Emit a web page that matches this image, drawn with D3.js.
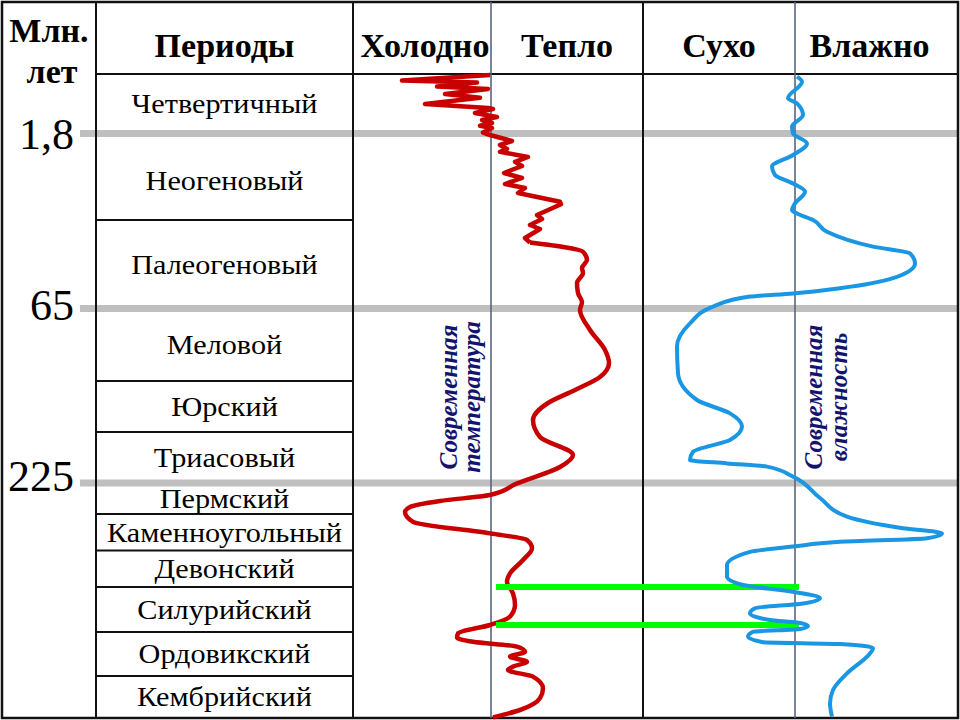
<!DOCTYPE html>
<html lang="ru">
<head>
<meta charset="UTF-8">
<title>Климат фанерозоя</title>
<script src="https://cdn.jsdelivr.net/npm/d3@7"></script>
<style>
  body { margin: 0; padding: 0; background: #fff; }
  svg { display: block; font-family: "Liberation Serif", "Times New Roman", serif; }
</style>
</head>
<body>
<div id="chart"></div>
<script>
// periods, top to bottom, with the lower edge of each row in chart units
var periods = ["Четвертичный", "Неогеновый", "Палеогеновый", "Меловой", "Юрский", "Триасовый",
               "Пермский", "Каменноугольный", "Девонский", "Силурийский", "Ордовикский", "Кембрийский"];
var periodEnds = [14.6, 36.25, 58.4, 76.5, 89.25, 102, 109.75, 118.9, 128, 139.25, 150.25, 160.75];
var periodStart = -0.25;

// age marks (млн. лет) sit on these period boundaries
var ageLabels = ["1,8", "65", "225"];
var ageBoundary = [0, 2, 5];

var columnHeaders = ["Холодно", "Тепло", "Сухо", "Влажно"];

// temperature relative to today: [position, deviation]
var tempRecent = [
  [0, -0.05], [1.4, -4.45], [1.9, -0.7], [2.9, -2.7], [3.5, -0.15], [4.75, -2.3], [5.7, -0.55],
  [7.25, -3.3], [8.25, -0.15], [8.5, 0.1], [9.5, -0.8], [10.5, 0.3], [11.25, -0.45], [12, 0.05],
  [12.7, -0.55], [13.25, 0.05], [14.4, -0.4], [15, -0.05], [16.5, 1.05], [17.5, 0.45], [18.5, 0.8],
  [19.2, 0.45], [20.5, 1.85], [21.7, 1.2], [22.75, 1.55], [24.5, 0.65], [25.75, 1.55], [27.25, 0.7],
  [28.25, 1.7], [29.5, 1.35], [31.7, 3.45], [32.3, 3.5], [35, 2.3], [36, 2.55], [37.5, 1.95],
  [38.5, 2.45], [40.75, 1.7], [41.9, 1.95]
];
var tempAncient = [
  [41.9, 1.95], [44.2, 4.6], [46.25, 4.8], [48.25, 4.55], [49.5, 4.6], [52, 4.3], [54.5, 4.35],
  [56.75, 4.55], [58.75, 4.45], [63.75, 4.95], [68.75, 5.7], [72, 5.9], [75.5, 5.45], [78.75, 4.2],
  [82, 2.85], [86.25, 2.1], [90.5, 2.45], [95, 4.1], [98, 3.45], [102.1, 1.3], [105, -0.05],
  [106.5, -2.55], [108, -4.05], [109.25, -4.3], [111.7, -3.9], [114.6, -0.05], [116.25, 1.8],
  [118.3, 2.05], [121.25, 1.6], [124.6, 0.95], [126.7, 0.8], [129.6, 1.1], [132.5, 1.2],
  [135.4, 0.95], [137.5, -0.05], [139.6, -1.65], [140.6, -1.7], [141.7, -0.9], [142.9, 1.3],
  [144.2, 1.7], [145.4, 0.95], [146.7, 1.8], [147.9, 1.1], [148.75, 0.85], [150.4, 2.1],
  [153.3, 2.6], [155.8, 2.45], [158.75, 1.45], [160.6, 0.1]
];

// humidity relative to today: [position, deviation]
var humidity = [
  [0.4, 0.1], [1.7, 0.35], [5.8, -0.35], [7.1, 0.1], [10, 0.4], [12.9, -0.15], [14.6, -0.1],
  [17.1, 0.6], [20, -0.1], [22.9, -1.15], [25, -1.0], [27.1, -0.1], [29.2, 0.5], [32.1, 0],
  [33.75, -0.15], [34.75, 0.15], [36.25, 0.9], [39.2, 1.6], [42.9, 3.9], [44.6, 5.75], [47.1, 6.0],
  [50.8, 4.9], [53.3, 2.25], [54.6, -0.1], [55.4, -2.25], [57.9, -4.1], [62.1, -5.25], [67.9, -5.9],
  [74.6, -5.85], [81.25, -4.9], [84.6, -3.25], [87.9, -2.65], [91.25, -3.25], [94.2, -5.1],
  [96.25, -5.25], [97.1, -3.4], [97.9, -1.4], [100.4, -0.1], [105.75, 1.25], [110.4, 2.6],
  [113.3, 5.4], [114.6, 7.35], [115.8, 6.6], [116.7, 2.25], [117.9, -0.1], [119.2, -2.25],
  [122.5, -3.4], [125.4, -3.4], [127.5, -2.6], [129.2, -0.1], [130.8, 1.25], [132.1, 0.4],
  [133.3, -2.0], [134.6, -2.25], [136.25, -1.25], [136.9, 0.1], [137.75, 0.65], [138.5, 0.25],
  [139.2, -2.1], [140.4, -2.35], [141.8, -1.6], [142.25, 2.25], [143.3, 3.9], [144.6, 3.75],
  [149.6, 2.6], [153.75, 1.9], [157.1, 1.75], [160.4, 1.85]
];

// green bars of the Silurian, positions and their span from temp to humidity value
var greenMarks = [128, 137.5];
var greenFrom = 0.25, greenTo = 0.2;

var W = 960, H = 720;
var svg = d3.select("#chart").append("svg")
    .attr("width", W).attr("height", H);

var y = d3.scaleLinear().domain([0, 160]).range([75, 715]);
var tempX = d3.scaleLinear().domain([-7, 7.5]).range([351, 641]);
var humX = d3.scaleLinear().domain([-7.5, 8]).range([645, 955]);

var colL = 96, colP = 353, colM = 643, right = 958, headY = 74;

// period rows
svg.selectAll(".row").data(periodEnds.slice(0, -1)).enter().append("line")
    .attr("x1", colL).attr("x2", colP)
    .attr("y1", function(d) { return y(d); }).attr("y2", function(d) { return y(d); })
    .attr("stroke", "#111").attr("stroke-width", 2);

// gray age lines cover the row lines they sit on
svg.selectAll(".age").data(ageBoundary).enter().append("line")
    .attr("x1", 80).attr("x2", right)
    .attr("y1", function(d) { return y(periodEnds[d]); })
    .attr("y2", function(d) { return y(periodEnds[d]); })
    .attr("stroke", "#bfbfbf").attr("stroke-width", 7);

// period names, a bit wider than the font draws them
var midX = (colL + colP) / 2;
svg.selectAll(".ptxt").data(periods).enter().append("text")
    .attr("transform", function(d, i) {
      var top = i === 0 ? periodStart : periodEnds[i - 1];
      var cy = (y(top) + y(periodEnds[i])) / 2 + (i === 1 ? 4 : 0);
      return "translate(" + midX + "," + cy + ") scale(1.12,1)";
    })
    .attr("text-anchor", "middle").attr("dominant-baseline", "central")
    .attr("font-size", 27).text(function(d) { return d; });

// frame and columns
svg.append("rect").attr("x", 2).attr("y", 2).attr("width", W - 4).attr("height", H - 4)
    .attr("fill", "none").attr("stroke", "#111").attr("stroke-width", 2.5);
[colL, colP, colM].forEach(function(x) {
  svg.append("line").attr("x1", x).attr("x2", x).attr("y1", 2).attr("y2", H - 2)
      .attr("stroke", "#111").attr("stroke-width", 2);
});
svg.append("line").attr("x1", colL).attr("x2", right).attr("y1", headY).attr("y2", headY)
    .attr("stroke", "#111").attr("stroke-width", 2);

// today reference lines
[tempX(0), humX(0)].forEach(function(x) {
  svg.append("line").attr("x1", x).attr("x2", x).attr("y1", 2).attr("y2", H - 2)
      .attr("stroke", "#5b6384").attr("stroke-width", 1.6);
});

// headers
svg.append("text").attr("x", 49).attr("y", 42).attr("text-anchor", "middle")
    .attr("font-size", 34).attr("font-weight", "bold").text("Млн.");
svg.append("text").attr("x", 52).attr("y", 83).attr("text-anchor", "middle")
    .attr("font-size", 34).attr("font-weight", "bold").text("лет");
svg.append("text").attr("x", midX).attr("y", 57).attr("text-anchor", "middle")
    .attr("font-size", 34).attr("font-weight", "bold").text("Периоды");
var headX = [(colP + tempX(0)) / 2 + 3, (tempX(0) + colM) / 2, (colM + humX(0)) / 2, (humX(0) + right) / 2 - 7];
svg.selectAll(".head").data(columnHeaders).enter().append("text")
    .attr("x", function(d, i) { return headX[i]; }).attr("y", 57)
    .attr("text-anchor", "middle").attr("font-size", 34).attr("font-weight", "bold")
    .text(function(d) { return d; });

// age labels
var ageNudge = [1, -3, -7];
svg.selectAll(".agetxt").data(ageLabels).enter().append("text")
    .attr("x", 74).attr("y", function(d, i) { return y(periodEnds[ageBoundary[i]]) + ageNudge[i]; })
    .attr("text-anchor", "end").attr("dominant-baseline", "central")
    .attr("font-size", 44).text(function(d) { return d; });

// vertical captions
function caption(x1, x2, lines) {
  lines.forEach(function(t, i) {
    svg.append("text")
        .attr("transform", "translate(" + [i === 0 ? x1 : x2, 397] + ") rotate(-90)")
        .attr("text-anchor", "middle").attr("font-size", 25)
        .attr("font-weight", "bold").attr("font-style", "italic")
        .attr("fill", "#14146e").text(t);
  });
}
caption(457, 480, ["Современная", "температура"]);
caption(822, 847, ["Современная", "влажность"]);

// curves
var lineLin = d3.line().x(function(d) { return tempX(d[1]); }).y(function(d) { return y(d[0]); });
var lineSmooth = d3.line().curve(d3.curveMonotoneY)
    .x(function(d) { return tempX(d[1]); }).y(function(d) { return y(d[0]); });
var lineHum = d3.line().curve(d3.curveMonotoneY)
    .x(function(d) { return humX(d[1]); }).y(function(d) { return y(d[0]); });

svg.append("path").attr("d", lineLin(tempRecent)).attr("fill", "none")
    .attr("stroke", "#c80000").attr("stroke-width", 4.5).attr("stroke-linejoin", "round");
svg.append("path").attr("d", lineSmooth(tempAncient)).attr("fill", "none")
    .attr("stroke", "#c80000").attr("stroke-width", 4.5);

svg.selectAll(".green").data(greenMarks).enter().append("line")
    .attr("x1", tempX(greenFrom)).attr("x2", humX(greenTo))
    .attr("y1", function(d) { return y(d); }).attr("y2", function(d) { return y(d); })
    .attr("stroke", "#00ff00").attr("stroke-width", 6);

svg.append("path").attr("d", lineHum(humidity)).attr("fill", "none")
    .attr("stroke", "#1a96e2").attr("stroke-width", 4);
</script>
</body>
</html>
